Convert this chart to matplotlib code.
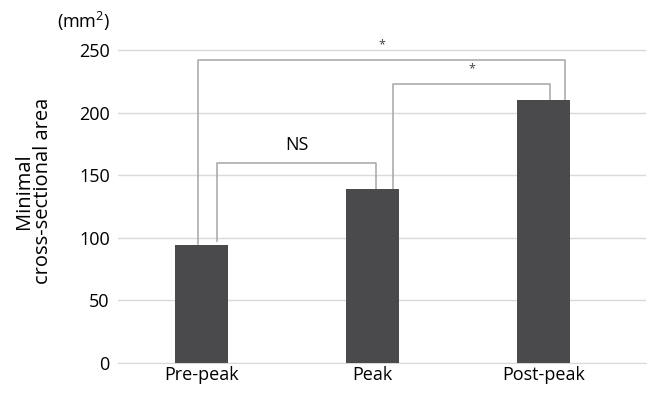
import matplotlib.pyplot as plt
import numpy as np

plt.rcParams['font.family'] = ['Open Sans', 'DejaVu Sans']

# data
categories = ['Pre-peak', 'Peak', 'Post-peak']
areas = [94, 139, 210]
yticks = [0, 50, 100, 150, 200, 250]

# significance brackets: (left x, right x, left leg bottom, right leg bottom, top, label)
brackets = [
    (0.09, 1.02, 97, 139, 160, 'NS'),
    (-0.02, 2.13, 95, 210, 242, '*'),
    (1.12, 2.04, 139, 210, 223, '*'),
]

fig = plt.figure(figsize=(6.49, 3.94), dpi=100)
ax = fig.add_axes([0.182, 0.079, 0.813, 0.826])

x = np.arange(len(categories))
ax.bar(x, areas, width=0.31, color='#4a4a4c', zorder=3)

for xl, xr, bl, br, top, label in brackets:
    ax.plot([xl, xl, xr, xr], [bl, top, top, br], color='#a6a6a6', lw=1.1, zorder=2)
    if label == 'NS':
        ax.text((xl + xr) / 2, top + 7, label, ha='center', va='bottom', fontsize=13)
    else:
        ax.text((xl + xr) / 2, top + 7, label, ha='center', va='bottom', fontsize=9, color='#404040')

ax.set_xlim(-0.49, 2.6)
ax.set_ylim(0, 260)
ax.set_yticks(yticks)
ax.set_xticks(x)
ax.set_xticklabels(categories, fontsize=13)
ax.tick_params(axis='y', labelsize=13, length=0, pad=6)
ax.tick_params(axis='x', length=0, pad=2)
ax.grid(axis='y', color='#d9d9d9', lw=1, zorder=0)
for s in ['top', 'right', 'left']:
    ax.spines[s].set_visible(False)
ax.spines['bottom'].set_color('#d9d9d9')

fig.text(0.170, 0.945, '(mm$^{\\mathregular{2}}$)', ha='right', va='center', fontsize=13)
fig.text(0.052, 0.515, 'Minimal\ncross-sectional area', rotation=90, ha='center', va='center',
         fontsize=14.5, linespacing=0.9)

fig.savefig('out.png', dpi=100)
